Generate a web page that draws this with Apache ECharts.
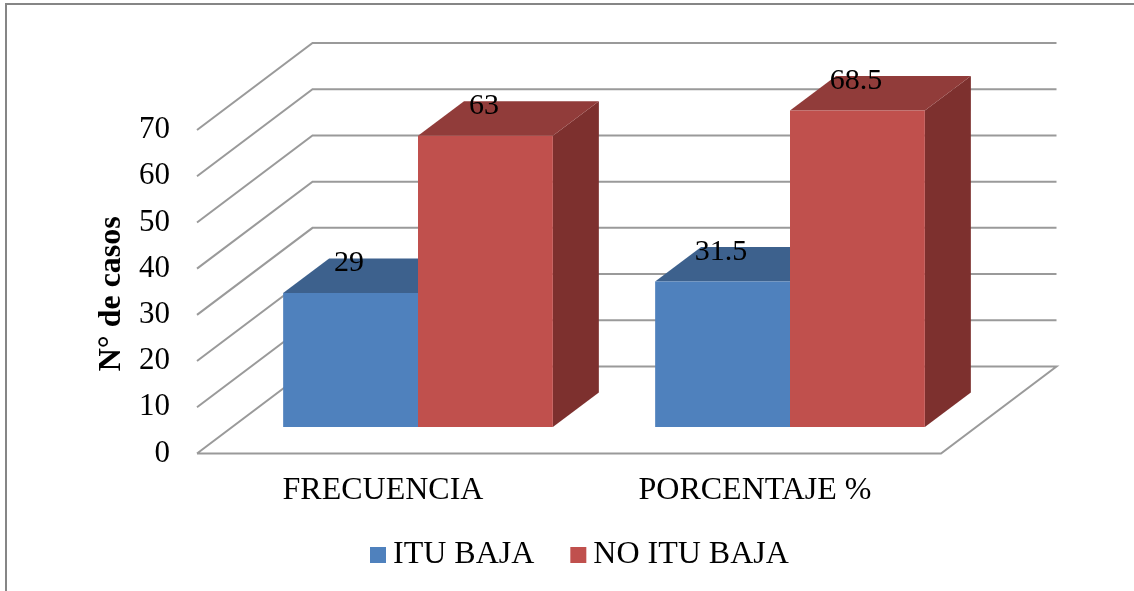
<!DOCTYPE html>
<html>
<head>
<meta charset="utf-8">
<style>html,body{margin:0;padding:0;background:#fff}#c{width:1134px;height:591px}</style>
<script src="https://cdn.jsdelivr.net/npm/echarts@6/dist/echarts.min.js"></script>
</head>
<body>
<div id="c"></div>
<script>
const categories = ['FRECUENCIA', 'PORCENTAJE %'];
const itu = [29, 31.5];
const noItu = [63, 68.5];
const yTicks = [0, 10, 20, 30, 40, 50, 60, 70];
const font = '"Liberation Serif","Times New Roman",serif';
const wall = [115.5, -87];
const barFront = [35, -26.5];
const barBack = [81, -61];
const barRatio = 0.3625;

function poly(points, fill) {
  return { type: 'polygon', shape: { points }, style: { fill } };
}
function barRenderer(side, front, top, dark, values) {
  return function (params, api) {
    const cat = api.value(0), v = api.value(1);
    const base = api.coord([cat, 0]), head = api.coord([cat, v]);
    const w = api.size([1, 0])[0] * barRatio;
    const x0 = base[0] + (side < 0 ? -w : 0), x1 = x0 + w;
    const P = (x, y, o) => [x + o[0], y + o[1]];
    const fbl = P(x0, base[1], barFront), fbr = P(x1, base[1], barFront);
    const ftl = P(x0, head[1], barFront), ftr = P(x1, head[1], barFront);
    const btl = P(x0, head[1], barBack), btr = P(x1, head[1], barBack);
    const bbr = P(x1, base[1], barBack);
    return {
      type: 'group',
      children: [
        poly([fbr, bbr, btr, ftr], dark),
        poly([ftl, ftr, btr, btl], top),
        poly([fbl, fbr, ftr, ftl], front),
        {
          type: 'text', z2: 10,
          style: {
            text: String(values[params.dataIndex]),
            x: (x0 + x1) / 2 + barFront[0] - 1.5,
            y: btl[1] + 5,
            align: 'center', verticalAlign: 'middle',
            font: '30px ' + font, fill: '#000'
          }
        }
      ]
    };
  };
}
const chart = echarts.init(document.getElementById('c'), null, { renderer: 'canvas' });
chart.setOption({
  animation: false,
  backgroundColor: '#fff',
  grid: { left: 197, top: 130, width: 744, height: 323.5 },
  graphic: [
    { type: 'line', shape: { x1: 5, y1: 4, x2: 1134, y2: 4 }, style: { stroke: '#868686', lineWidth: 2 } },
    { type: 'line', shape: { x1: 6, y1: 3, x2: 6, y2: 591 }, style: { stroke: '#868686', lineWidth: 2 } }
  ],
  xAxis: {
    type: 'category', data: categories,
    axisLine: { show: false }, axisTick: { show: false }, splitLine: { show: false },
    axisLabel: { color: '#000', fontFamily: font, fontSize: 32, margin: 21 }
  },
  yAxis: {
    type: 'value', min: 0, max: 70, interval: 10,
    axisLine: { show: false }, axisTick: { show: false }, splitLine: { show: false },
    axisLabel: { color: '#000', fontFamily: font, fontSize: 31, margin: 27 },
    name: 'N° de casos', nameLocation: 'middle', nameGap: 67,
    nameTextStyle: { color: '#000', fontFamily: font, fontSize: 32, fontWeight: 'bold', padding: [0, 4, 0, 0] }
  },
  legend: {
    left: 365, top: 534, icon: 'rect', itemWidth: 16, itemHeight: 16, itemGap: 36,
    data: ['ITU BAJA', 'NO ITU BAJA'],
    textStyle: { color: '#000', fontFamily: font, fontSize: 32, padding: [0, 0, 0, 2] }
  },
  series: [
    {
      type: 'custom', name: 'walls', coordinateSystem: 'cartesian2d', silent: true, z: 1,
      clip: false, encode: { y: 0 }, data: yTicks.map(v => [v]),
      renderItem(params, api) {
        const cs = params.coordSys;
        const v = api.value(0);
        const y = api.coord([0, v])[1];
        const L = cs.x, R = cs.x + cs.width;
        const pts = [[L, y], [L + wall[0], y + wall[1]], [R + wall[0], y + wall[1]]];
        if (v === 0) pts.push([R, y], [L, y]);
        return { type: 'polyline', shape: { points: pts }, style: { fill: null, stroke: '#9a9a9a', lineWidth: 2 } };
      }
    },
    {
      type: 'custom', name: 'ITU BAJA', coordinateSystem: 'cartesian2d', z: 2, clip: false,
      itemStyle: { color: '#4F81BD' }, encode: { x: 0, y: 1 },
      data: itu.map((v, i) => [i, v]),
      renderItem: barRenderer(-1, '#4F81BD', '#3D618D', '#345478', itu)
    },
    {
      type: 'custom', name: 'NO ITU BAJA', coordinateSystem: 'cartesian2d', z: 3, clip: false,
      itemStyle: { color: '#C0504D' }, encode: { x: 0, y: 1 },
      data: noItu.map((v, i) => [i, v]),
      renderItem: barRenderer(1, '#C0504D', '#913C3A', '#7D302E', noItu)
    }
  ]
});
</script>
</body>
</html>
